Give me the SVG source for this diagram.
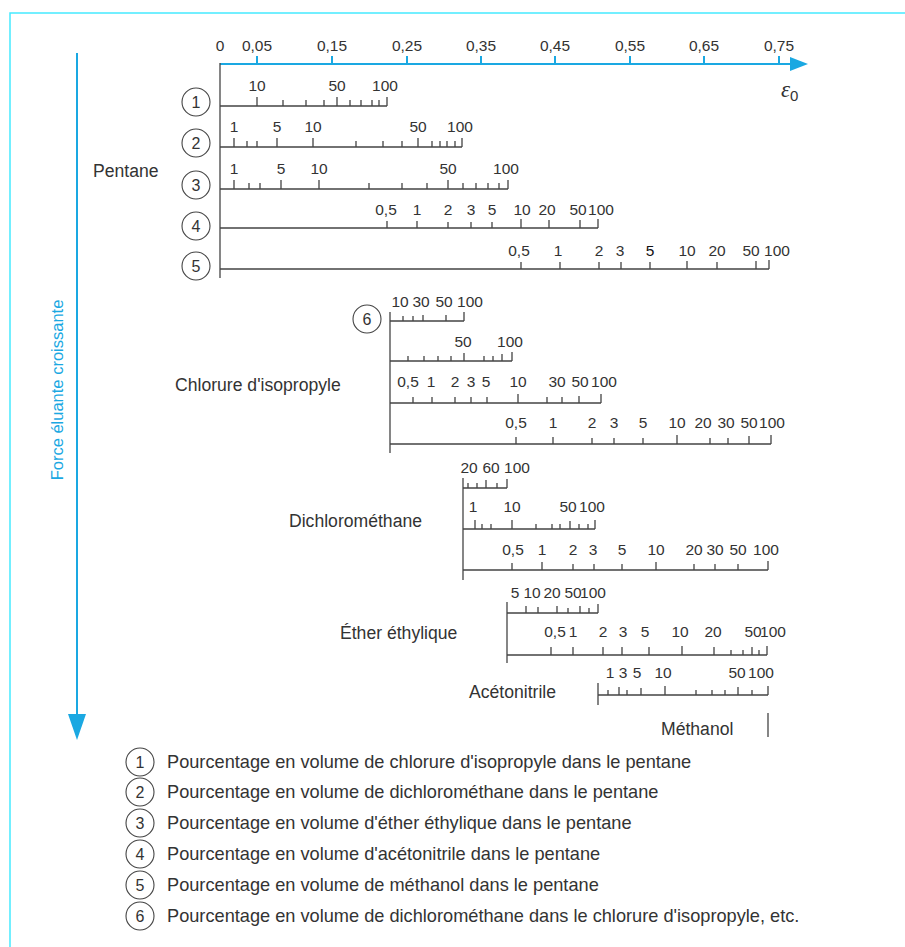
<svg xmlns="http://www.w3.org/2000/svg" width="905" height="947" viewBox="0 0 905 947">
<style>
text{font-family:"Liberation Sans",Arial,sans-serif;fill:#333}
.t{font-size:15.5px;text-anchor:middle}
.lb{font-size:17.6px}
.lg{font-size:18.2px}
.n{font-size:16px;text-anchor:middle}
.sc{fill:none;stroke:#444;stroke-width:1.3}
.ci{fill:none;stroke:#444;stroke-width:1.1}
.bl{fill:none;stroke:#1aa8e2;stroke-width:2}
.frame{fill:none;stroke:#45eaff;stroke-width:1.5}
</style>
<rect width="905" height="947" fill="#fff"/>
<path class="frame" d="M10 947V13H905"/>

<g id="connectors">
<path class="bl" d="M220 64H790"/>
<path d="M790 57L808 64L790 71z" fill="#1aa8e2"/>
<path class="bl" d="M257 64v-8M332 64v-8M407 64v-8M481 64v-8M555 64v-8M630 64v-8M704 64v-8M779 64v-8"/>
<path class="bl" d="M77 53V714"/>
<path d="M68 714L86 714L77 740z" fill="#1aa8e2"/>
</g>

<g id="axis-labels">
<text class="t" x="220" y="51">0</text>
<text class="t" x="257" y="51">0,05</text>
<text class="t" x="332" y="51">0,15</text>
<text class="t" x="407" y="51">0,25</text>
<text class="t" x="481" y="51">0,35</text>
<text class="t" x="555" y="51">0,45</text>
<text class="t" x="630" y="51">0,55</text>
<text class="t" x="704" y="51">0,65</text>
<text class="t" x="779" y="51">0,75</text>
<text x="781" y="97" style="font-family:'Liberation Serif',serif;font-style:italic;font-size:23px">ε<tspan dy="4" style="font-family:'Liberation Sans',sans-serif;font-style:normal;font-size:15px">0</tspan></text>
<text transform="translate(63,390) rotate(-90)" style="font-size:16.5px;text-anchor:middle;fill:#1aa8e2">Force éluante croissante</text>
</g>

<g id="pentane">
<path class="sc" d="M220 63V278"/>
<text class="lb" x="93" y="177">Pentane</text>
</g>

<g id="scale-1">
<circle class="ci" cx="196" cy="102" r="14"/><text class="n" x="196" y="108">1</text>
<path class="sc" d="M220 106H387M257 106v-9M337 106v-9M387 106v-9M283 106v-6M306 106v-6M324 106v-6M350 106v-6M361 106v-6M372 106v-6M379 106v-6"/>
<text class="t" x="257" y="91">10</text><text class="t" x="337" y="91">50</text><text class="t" x="385" y="91">100</text>
</g>

<g id="scale-2">
<circle class="ci" cx="196" cy="143" r="14"/><text class="n" x="196" y="149">2</text>
<path class="sc" d="M220 147H462M234 147v-9M277 147v-9M313 147v-9M418 147v-9M462 147v-9M247 147v-6M257 147v-6M356 147v-6M383 147v-6M402 147v-6M432 147v-6M440 147v-6M447 147v-6M455 147v-6"/>
<text class="t" x="234" y="132">1</text><text class="t" x="277" y="132">5</text><text class="t" x="313" y="132">10</text><text class="t" x="418" y="132">50</text><text class="t" x="460" y="132">100</text>
</g>

<g id="scale-3">
<circle class="ci" cx="196" cy="185" r="14"/><text class="n" x="196" y="191">3</text>
<path class="sc" d="M220 189H508M234 189v-9M281 189v-9M319 189v-9M448 189v-9M508 189v-9M249 189v-6M260 189v-6M369 189v-6M402 189v-6M427 189v-6M463 189v-6M476 189v-6M488 189v-6M499 189v-6"/>
<text class="t" x="234" y="174">1</text><text class="t" x="281" y="174">5</text><text class="t" x="319" y="174">10</text><text class="t" x="448" y="174">50</text><text class="t" x="506" y="174">100</text>
</g>

<g id="scale-4">
<circle class="ci" cx="196" cy="226" r="14"/><text class="n" x="196" y="232">4</text>
<path class="sc" d="M220 228H598M387 228v-7M417 228v-7M448 228v-6M471 228v-6M492 228v-6M521 228v-9M549 228v-8M580 228v-8M598 228v-9"/>
<text class="t" x="386" y="215">0,5</text><text class="t" x="417" y="215">1</text><text class="t" x="448" y="215">2</text><text class="t" x="471" y="215">3</text><text class="t" x="492" y="215">5</text><text class="t" x="522" y="215">10</text><text class="t" x="547" y="215">20</text><text class="t" x="578" y="215">50</text><text class="t" x="601" y="215">100</text>
</g>

<g id="scale-5">
<circle class="ci" cx="196" cy="266" r="14"/><text class="n" x="196" y="272">5</text>
<path class="sc" d="M220 269H769M521 269v-7M560 269v-7M599 269v-7M621 269v-7M650 269v-7M687 269v-8M717 269v-7M756 269v-8M769 269v-9"/>
<text class="t" x="519" y="256">0,5</text><text class="t" x="558" y="256">1</text><text class="t" x="599" y="256">2</text><text class="t" x="620" y="256">3</text><text class="t" x="650" y="256" style="fill:#111">5</text><text class="t" x="687" y="256">10</text><text class="t" x="717" y="256">20</text><text class="t" x="751" y="256">50</text><text class="t" x="777" y="256">100</text>
</g>

<g id="chlorure-isopropyle">
<path class="sc" d="M390 312V453"/>
<text class="lb" x="175" y="391">Chlorure d'isopropyle</text>
</g>

<g id="scale-6">
<circle class="ci" cx="367" cy="319" r="14"/><text class="n" x="367" y="325">6</text>
<path class="sc" d="M390 321H464M403 321v-5M413 321v-5M423 321v-6M446 321v-6M464 321v-9"/>
<text class="t" x="400" y="307">10</text><text class="t" x="421" y="307">30</text><text class="t" x="444" y="307">50</text><text class="t" x="470" y="307">100</text>
</g>

<g id="scale-6b">
<path class="sc" d="M390 361H512M408 361v-5M424 361v-5M438 361v-5M451 361v-5M464 361v-8M484 361v-5M493 361v-5M502 361v-7M512 361v-9"/>
<text class="t" x="463" y="347">50</text><text class="t" x="510" y="347">100</text>
</g>

<g id="scale-6c">
<path class="sc" d="M390 403H601M413 403v-6M432 403v-6M455 403v-6M471 403v-6M487 403v-6M518 403v-9M547 403v-6M562 403v-6M579 403v-7M601 403v-9"/>
<text class="t" x="408" y="387">0,5</text><text class="t" x="431" y="387">1</text><text class="t" x="455" y="387">2</text><text class="t" x="471" y="387">3</text><text class="t" x="486" y="387">5</text><text class="t" x="518" y="387">10</text><text class="t" x="557" y="387">30</text><text class="t" x="580" y="387">50</text><text class="t" x="604" y="387">100</text>
</g>

<g id="scale-6d">
<path class="sc" d="M390 444H771M516 444v-7M553 444v-7M592 444v-6M614 444v-6M643 444v-6M677 444v-9M710 444v-6M728 444v-6M749 444v-8M771 444v-9"/>
<text class="t" x="516" y="428">0,5</text><text class="t" x="553" y="428">1</text><text class="t" x="592" y="428">2</text><text class="t" x="614" y="428">3</text><text class="t" x="643" y="428">5</text><text class="t" x="677" y="428">10</text><text class="t" x="703" y="428">20</text><text class="t" x="726" y="428">30</text><text class="t" x="749" y="428">50</text><text class="t" x="772" y="428">100</text>
</g>

<g id="dichloromethane">
<path class="sc" d="M463 478V580"/>
<text class="lb" x="289" y="527">Dichlorométhane</text>
</g>

<g id="scale-7a">
<path class="sc" d="M463 488H507M468 488v-5M477 488v-5M486 488v-8M497 488v-5M507 488v-9"/>
<text class="t" x="469" y="473">20</text><text class="t" x="491" y="473">60</text><text class="t" x="517" y="473">100</text>
</g>

<g id="scale-7b">
<path class="sc" d="M463 529H595M475 529v-9M482 529v-5M491 529v-5M512 529v-9M536 529v-5M552 529v-5M560 529v-5M570 529v-8M579 529v-5M588 529v-5M595 529v-9"/>
<text class="t" x="473" y="512">1</text><text class="t" x="512" y="512">10</text><text class="t" x="568" y="512">50</text><text class="t" x="592" y="512">100</text>
</g>

<g id="scale-7c">
<path class="sc" d="M463 570H768M512 570v-7M542 570v-8M573 570v-6M594 570v-6M622 570v-6M656 570v-8M694 570v-6M715 570v-6M738 570v-6M768 570v-9"/>
<text class="t" x="513" y="555">0,5</text><text class="t" x="542" y="555">1</text><text class="t" x="573" y="555">2</text><text class="t" x="593" y="555">3</text><text class="t" x="622" y="555">5</text><text class="t" x="656" y="555">10</text><text class="t" x="694" y="555">20</text><text class="t" x="715" y="555">30</text><text class="t" x="738" y="555">50</text><text class="t" x="766" y="555">100</text>
</g>

<g id="ether-ethylique">
<path class="sc" d="M507 602V663"/>
<text class="lb" x="340" y="639">Éther éthylique</text>
</g>

<g id="scale-8a">
<path class="sc" d="M507 613H598M526 613v-7M538 613v-6M557 613v-7M568 613v-5M580 613v-7M589 613v-5M598 613v-9"/>
<text class="t" x="515" y="598">5</text><text class="t" x="532" y="598">10</text><text class="t" x="552" y="598">20</text><text class="t" x="573" y="598">50</text><text class="t" x="593" y="598">100</text>
</g>

<g id="scale-8b">
<path class="sc" d="M507 655H767M551 655v-8M573 655v-8M603 655v-8M622 655v-8M649 655v-8M682 655v-9M714 655v-8M731 655v-5M743 655v-5M752 655v-8M759 655v-5M767 655v-9"/>
<text class="t" x="555" y="637">0,5</text><text class="t" x="573" y="637">1</text><text class="t" x="603" y="637">2</text><text class="t" x="623" y="637">3</text><text class="t" x="645" y="637">5</text><text class="t" x="680" y="637">10</text><text class="t" x="713" y="637">20</text><text class="t" x="753" y="637">50</text><text class="t" x="773" y="637">100</text>
</g>

<g id="acetonitrile">
<text class="lb" x="469" y="698">Acétonitrile</text>
<path class="sc" d="M598 683V705M598 695H768M608 695v-5M619 695v-8M627 695v-5M641 695v-7M665 695v-9M696 695v-5M712 695v-5M725 695v-5M738 695v-8M752 695v-5M768 695v-9"/>
<text class="t" x="610" y="678">1</text><text class="t" x="623" y="678">3</text><text class="t" x="637" y="678">5</text><text class="t" x="663" y="678">10</text><text class="t" x="737" y="678">50</text><text class="t" x="761" y="678">100</text>
</g>

<g id="methanol">
<text class="lb" x="661" y="735">Méthanol</text>
<path class="sc" d="M768 713V737"/>
</g>

<g id="legend">
<circle class="ci" cx="140" cy="762" r="14"/><text class="n" x="140" y="768">1</text>
<text class="lg" x="167" y="768">Pourcentage en volume de chlorure d'isopropyle dans le pentane</text>
<circle class="ci" cx="140" cy="792" r="14"/><text class="n" x="140" y="798">2</text>
<text class="lg" x="167" y="798">Pourcentage en volume de dichlorométhane dans le pentane</text>
<circle class="ci" cx="140" cy="823" r="14"/><text class="n" x="140" y="829">3</text>
<text class="lg" x="167" y="829">Pourcentage en volume d'éther éthylique dans le pentane</text>
<circle class="ci" cx="140" cy="854" r="14"/><text class="n" x="140" y="860">4</text>
<text class="lg" x="167" y="860">Pourcentage en volume d'acétonitrile dans le pentane</text>
<circle class="ci" cx="140" cy="885" r="14"/><text class="n" x="140" y="891">5</text>
<text class="lg" x="167" y="891">Pourcentage en volume de méthanol dans le pentane</text>
<circle class="ci" cx="140" cy="916" r="14"/><text class="n" x="140" y="922">6</text>
<text class="lg" x="167" y="922">Pourcentage en volume de dichlorométhane dans le chlorure d'isopropyle, etc.</text>
</g>
</svg>
